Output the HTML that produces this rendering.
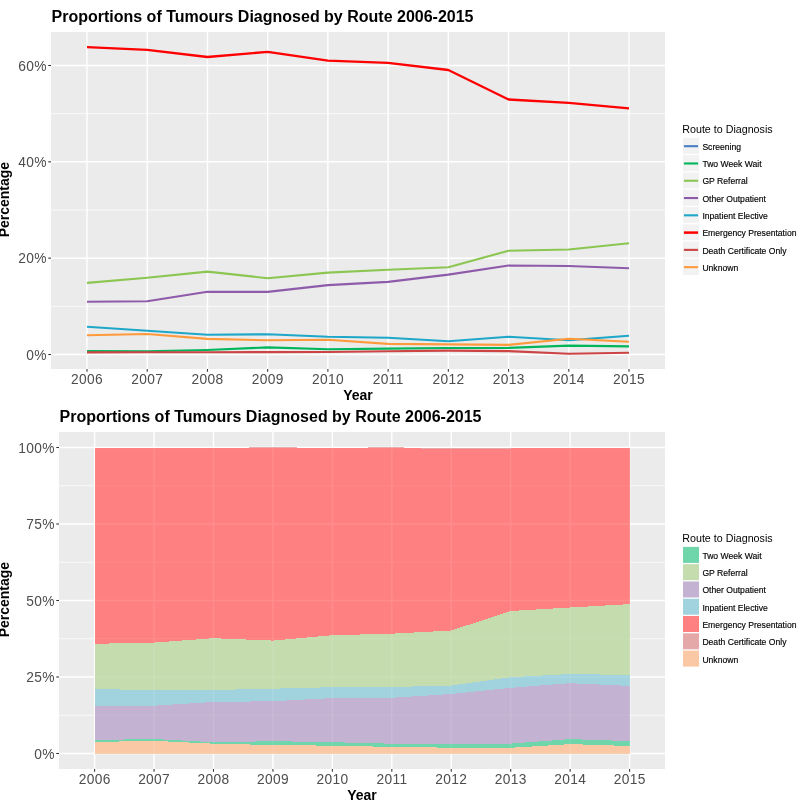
<!DOCTYPE html>
<html><head><meta charset="utf-8"><style>
html,body{margin:0;padding:0;background:#fff;width:811px;height:804px;overflow:hidden}
svg{display:block;will-change:transform}
</style></head><body>
<svg width="811" height="804" viewBox="0 0 811 804" font-family='"Liberation Sans", sans-serif'>
<rect width="811" height="804" fill="#FFFFFF"/>
<rect x="51" y="32" width="614" height="337" fill="#EBEBEB"/>
<line x1="51" x2="665" y1="306.33" y2="306.33" stroke="#FFFFFF" stroke-width="0.71"/>
<line x1="51" x2="665" y1="210.00" y2="210.00" stroke="#FFFFFF" stroke-width="0.71"/>
<line x1="51" x2="665" y1="113.66" y2="113.66" stroke="#FFFFFF" stroke-width="0.71"/>
<line x1="51" x2="665" y1="354.50" y2="354.50" stroke="#FFFFFF" stroke-width="1.42"/>
<line x1="51" x2="665" y1="258.17" y2="258.17" stroke="#FFFFFF" stroke-width="1.42"/>
<line x1="51" x2="665" y1="161.83" y2="161.83" stroke="#FFFFFF" stroke-width="1.42"/>
<line x1="51" x2="665" y1="65.50" y2="65.50" stroke="#FFFFFF" stroke-width="1.42"/>
<line x1="87.00" x2="87.00" y1="32" y2="369" stroke="#FFFFFF" stroke-width="1.42"/>
<line x1="147.22" x2="147.22" y1="32" y2="369" stroke="#FFFFFF" stroke-width="1.42"/>
<line x1="207.44" x2="207.44" y1="32" y2="369" stroke="#FFFFFF" stroke-width="1.42"/>
<line x1="267.67" x2="267.67" y1="32" y2="369" stroke="#FFFFFF" stroke-width="1.42"/>
<line x1="327.89" x2="327.89" y1="32" y2="369" stroke="#FFFFFF" stroke-width="1.42"/>
<line x1="388.11" x2="388.11" y1="32" y2="369" stroke="#FFFFFF" stroke-width="1.42"/>
<line x1="448.33" x2="448.33" y1="32" y2="369" stroke="#FFFFFF" stroke-width="1.42"/>
<line x1="508.55" x2="508.55" y1="32" y2="369" stroke="#FFFFFF" stroke-width="1.42"/>
<line x1="568.78" x2="568.78" y1="32" y2="369" stroke="#FFFFFF" stroke-width="1.42"/>
<line x1="629.00" x2="629.00" y1="32" y2="369" stroke="#FFFFFF" stroke-width="1.42"/>
<polyline points="87.00,351.10 147.22,351.30 207.44,350.00 267.67,347.40 327.89,349.30 388.11,348.60 448.33,348.00 508.55,347.90 568.78,345.60 629.00,346.40" fill="none" stroke="#00B55A" stroke-width="2.1" stroke-linejoin="round"/>
<polyline points="87.00,282.90 147.22,277.80 207.44,271.60 267.67,278.20 327.89,272.60 388.11,269.80 448.33,267.30 508.55,250.70 568.78,249.50 629.00,243.30" fill="none" stroke="#8CC652" stroke-width="2.1" stroke-linejoin="round"/>
<polyline points="87.00,301.70 147.22,301.20 207.44,291.80 267.67,291.90 327.89,285.10 388.11,281.90 448.33,274.60 508.55,265.50 568.78,266.00 629.00,268.20" fill="none" stroke="#8E5BAA" stroke-width="2.1" stroke-linejoin="round"/>
<polyline points="87.00,326.80 147.22,330.80 207.44,334.70 267.67,334.30 327.89,336.80 388.11,337.80 448.33,341.20 508.55,336.80 568.78,340.20 629.00,335.80" fill="none" stroke="#1EA7C8" stroke-width="2.1" stroke-linejoin="round"/>
<polyline points="87.00,47.20 147.22,49.90 207.44,57.00 267.67,51.80 327.89,60.70 388.11,62.90 448.33,70.00 508.55,99.50 568.78,102.90 629.00,108.40" fill="none" stroke="#FF0000" stroke-width="2.3" stroke-linejoin="round"/>
<polyline points="87.00,352.40 147.22,352.20 207.44,352.20 267.67,352.10 327.89,352.00 388.11,351.30 448.33,350.60 508.55,351.10 568.78,353.80 629.00,352.80" fill="none" stroke="#CC4444" stroke-width="2.1" stroke-linejoin="round"/>
<polyline points="87.00,335.20 147.22,334.00 207.44,338.90 267.67,340.30 327.89,339.70 388.11,343.90 448.33,344.40 508.55,344.90 568.78,338.70 629.00,341.70" fill="none" stroke="#FF9A3C" stroke-width="2.1" stroke-linejoin="round"/>
<line x1="48.25" x2="51" y1="354.50" y2="354.50" stroke="#333333" stroke-width="1.07"/>
<text x="46.95" y="359.50" text-anchor="end" font-size="13.75" letter-spacing="0.35" fill="#4D4D4D">0%</text>
<line x1="48.25" x2="51" y1="258.17" y2="258.17" stroke="#333333" stroke-width="1.07"/>
<text x="46.95" y="263.17" text-anchor="end" font-size="13.75" letter-spacing="0.35" fill="#4D4D4D">20%</text>
<line x1="48.25" x2="51" y1="161.83" y2="161.83" stroke="#333333" stroke-width="1.07"/>
<text x="46.95" y="166.83" text-anchor="end" font-size="13.75" letter-spacing="0.35" fill="#4D4D4D">40%</text>
<line x1="48.25" x2="51" y1="65.50" y2="65.50" stroke="#333333" stroke-width="1.07"/>
<text x="46.95" y="70.50" text-anchor="end" font-size="13.75" letter-spacing="0.35" fill="#4D4D4D">60%</text>
<line x1="87.00" x2="87.00" y1="369" y2="371.75" stroke="#333333" stroke-width="1.07"/>
<text x="87.10" y="384.00" text-anchor="middle" font-size="13.75" letter-spacing="0.35" fill="#4D4D4D">2006</text>
<line x1="147.22" x2="147.22" y1="369" y2="371.75" stroke="#333333" stroke-width="1.07"/>
<text x="147.32" y="384.00" text-anchor="middle" font-size="13.75" letter-spacing="0.35" fill="#4D4D4D">2007</text>
<line x1="207.44" x2="207.44" y1="369" y2="371.75" stroke="#333333" stroke-width="1.07"/>
<text x="207.54" y="384.00" text-anchor="middle" font-size="13.75" letter-spacing="0.35" fill="#4D4D4D">2008</text>
<line x1="267.67" x2="267.67" y1="369" y2="371.75" stroke="#333333" stroke-width="1.07"/>
<text x="267.77" y="384.00" text-anchor="middle" font-size="13.75" letter-spacing="0.35" fill="#4D4D4D">2009</text>
<line x1="327.89" x2="327.89" y1="369" y2="371.75" stroke="#333333" stroke-width="1.07"/>
<text x="327.99" y="384.00" text-anchor="middle" font-size="13.75" letter-spacing="0.35" fill="#4D4D4D">2010</text>
<line x1="388.11" x2="388.11" y1="369" y2="371.75" stroke="#333333" stroke-width="1.07"/>
<text x="388.21" y="384.00" text-anchor="middle" font-size="13.75" letter-spacing="0.35" fill="#4D4D4D">2011</text>
<line x1="448.33" x2="448.33" y1="369" y2="371.75" stroke="#333333" stroke-width="1.07"/>
<text x="448.43" y="384.00" text-anchor="middle" font-size="13.75" letter-spacing="0.35" fill="#4D4D4D">2012</text>
<line x1="508.55" x2="508.55" y1="369" y2="371.75" stroke="#333333" stroke-width="1.07"/>
<text x="508.65" y="384.00" text-anchor="middle" font-size="13.75" letter-spacing="0.35" fill="#4D4D4D">2013</text>
<line x1="568.78" x2="568.78" y1="369" y2="371.75" stroke="#333333" stroke-width="1.07"/>
<text x="568.88" y="384.00" text-anchor="middle" font-size="13.75" letter-spacing="0.35" fill="#4D4D4D">2014</text>
<line x1="629.00" x2="629.00" y1="369" y2="371.75" stroke="#333333" stroke-width="1.07"/>
<text x="629.10" y="384.00" text-anchor="middle" font-size="13.75" letter-spacing="0.35" fill="#4D4D4D">2015</text>
<text x="51.5" y="22" font-size="16" font-weight="bold" fill="#000">Proportions of Tumours Diagnosed by Route 2006-2015</text>
<text x="358" y="399.8" text-anchor="middle" font-size="14" font-weight="bold" fill="#000">Year</text>
<text transform="translate(8.8,199.6) rotate(-90)" text-anchor="middle" font-size="14" font-weight="bold" fill="#000">Percentage</text>
<text x="682.3" y="133" font-size="10.7" fill="#000">Route to Diagnosis</text>
<rect x="683" y="137.90" width="16" height="16" fill="#F2F2F2"/>
<line x1="683.9" x2="698.1" y1="146.20" y2="146.20" stroke="#4A7FC1" stroke-width="2.1"/>
<text x="702.38" y="149.90" font-size="8.6" fill="#000" stroke="#000" stroke-width="0.15">Screening</text>
<rect x="683" y="155.18" width="16" height="16" fill="#F2F2F2"/>
<line x1="683.9" x2="698.1" y1="163.48" y2="163.48" stroke="#00B55A" stroke-width="2.1"/>
<text x="702.38" y="167.18" font-size="8.6" fill="#000" stroke="#000" stroke-width="0.15">Two Week Wait</text>
<rect x="683" y="172.46" width="16" height="16" fill="#F2F2F2"/>
<line x1="683.9" x2="698.1" y1="180.76" y2="180.76" stroke="#8CC652" stroke-width="2.1"/>
<text x="702.38" y="184.46" font-size="8.6" fill="#000" stroke="#000" stroke-width="0.15">GP Referral</text>
<rect x="683" y="189.74" width="16" height="16" fill="#F2F2F2"/>
<line x1="683.9" x2="698.1" y1="198.04" y2="198.04" stroke="#8E5BAA" stroke-width="2.1"/>
<text x="702.38" y="201.74" font-size="8.6" fill="#000" stroke="#000" stroke-width="0.15">Other Outpatient</text>
<rect x="683" y="207.02" width="16" height="16" fill="#F2F2F2"/>
<line x1="683.9" x2="698.1" y1="215.32" y2="215.32" stroke="#1EA7C8" stroke-width="2.1"/>
<text x="702.38" y="219.02" font-size="8.6" fill="#000" stroke="#000" stroke-width="0.15">Inpatient Elective</text>
<rect x="683" y="224.30" width="16" height="16" fill="#F2F2F2"/>
<line x1="683.9" x2="698.1" y1="232.60" y2="232.60" stroke="#FF0000" stroke-width="2.5"/>
<text x="702.38" y="236.30" font-size="8.6" fill="#000" stroke="#000" stroke-width="0.15">Emergency Presentation</text>
<rect x="683" y="241.58" width="16" height="16" fill="#F2F2F2"/>
<line x1="683.9" x2="698.1" y1="249.88" y2="249.88" stroke="#CC4444" stroke-width="2.1"/>
<text x="702.38" y="253.58" font-size="8.6" fill="#000" stroke="#000" stroke-width="0.15">Death Certificate Only</text>
<rect x="683" y="258.86" width="16" height="16" fill="#F2F2F2"/>
<line x1="683.9" x2="698.1" y1="267.16" y2="267.16" stroke="#FF9A3C" stroke-width="2.1"/>
<text x="702.38" y="270.86" font-size="8.6" fill="#000" stroke="#000" stroke-width="0.15">Unknown</text>
<rect x="59" y="432" width="606" height="337" fill="#EBEBEB"/>
<line x1="59" x2="665" y1="715.25" y2="715.25" stroke="#FFFFFF" stroke-width="0.71"/>
<line x1="59" x2="665" y1="638.75" y2="638.75" stroke="#FFFFFF" stroke-width="0.71"/>
<line x1="59" x2="665" y1="562.25" y2="562.25" stroke="#FFFFFF" stroke-width="0.71"/>
<line x1="59" x2="665" y1="485.75" y2="485.75" stroke="#FFFFFF" stroke-width="0.71"/>
<line x1="59" x2="665" y1="753.50" y2="753.50" stroke="#FFFFFF" stroke-width="1.42"/>
<line x1="59" x2="665" y1="677.00" y2="677.00" stroke="#FFFFFF" stroke-width="1.42"/>
<line x1="59" x2="665" y1="600.50" y2="600.50" stroke="#FFFFFF" stroke-width="1.42"/>
<line x1="59" x2="665" y1="524.00" y2="524.00" stroke="#FFFFFF" stroke-width="1.42"/>
<line x1="59" x2="665" y1="447.50" y2="447.50" stroke="#FFFFFF" stroke-width="1.42"/>
<line x1="94.60" x2="94.60" y1="432" y2="769" stroke="#FFFFFF" stroke-width="1.42"/>
<line x1="154.04" x2="154.04" y1="432" y2="769" stroke="#FFFFFF" stroke-width="1.42"/>
<line x1="213.49" x2="213.49" y1="432" y2="769" stroke="#FFFFFF" stroke-width="1.42"/>
<line x1="272.93" x2="272.93" y1="432" y2="769" stroke="#FFFFFF" stroke-width="1.42"/>
<line x1="332.38" x2="332.38" y1="432" y2="769" stroke="#FFFFFF" stroke-width="1.42"/>
<line x1="391.82" x2="391.82" y1="432" y2="769" stroke="#FFFFFF" stroke-width="1.42"/>
<line x1="451.26" x2="451.26" y1="432" y2="769" stroke="#FFFFFF" stroke-width="1.42"/>
<line x1="510.71" x2="510.71" y1="432" y2="769" stroke="#FFFFFF" stroke-width="1.42"/>
<line x1="570.15" x2="570.15" y1="432" y2="769" stroke="#FFFFFF" stroke-width="1.42"/>
<line x1="629.60" x2="629.60" y1="432" y2="769" stroke="#FFFFFF" stroke-width="1.42"/>
<polygon points="94.60,448.20 154.04,448.20 213.49,448.20 272.93,448.20 332.38,448.20 391.82,448.20 451.26,448.20 510.71,448.20 570.15,448.20 629.60,448.20 629.60,604.10 570.15,607.50 510.71,611.00 451.26,630.50 391.82,633.70 332.38,635.20 272.93,640.60 213.49,638.20 154.04,642.60 94.60,643.80" fill="#FF8080" shape-rendering="crispEdges"/>
<polygon points="94.60,643.80 154.04,642.60 213.49,638.20 272.93,640.60 332.38,635.20 391.82,633.70 451.26,630.50 510.71,611.00 570.15,607.50 629.60,604.10 629.60,675.00 570.15,674.00 510.71,677.20 451.26,685.50 391.82,687.00 332.38,687.20 272.93,688.70 213.49,690.00 154.04,690.20 94.60,689.00" fill="#C5DCAF" shape-rendering="crispEdges"/>
<polygon points="94.60,689.00 154.04,690.20 213.49,690.00 272.93,688.70 332.38,687.20 391.82,687.00 451.26,685.50 510.71,677.20 570.15,674.00 629.60,675.00 629.60,685.90 570.15,683.20 510.71,687.80 451.26,694.00 391.82,697.80 332.38,698.10 272.93,701.20 213.49,702.00 154.04,705.70 94.60,706.00" fill="#A1D3DF" shape-rendering="crispEdges"/>
<polygon points="94.60,706.00 154.04,705.70 213.49,702.00 272.93,701.20 332.38,698.10 391.82,697.80 451.26,694.00 510.71,687.80 570.15,683.20 629.60,685.90 629.60,741.10 570.15,739.10 510.71,743.60 451.26,744.10 391.82,743.70 332.38,742.20 272.93,741.20 213.49,742.20 154.04,739.00 94.60,740.00" fill="#C3B2D2" shape-rendering="crispEdges"/>
<polygon points="94.60,740.00 154.04,739.00 213.49,742.20 272.93,741.20 332.38,742.20 391.82,743.70 451.26,744.10 510.71,743.60 570.15,739.10 629.60,741.10 629.60,746.00 570.15,744.10 510.71,747.80 451.26,747.70 391.82,746.90 332.38,745.70 272.93,745.00 213.49,743.70 154.04,740.80 94.60,742.00" fill="#6ED6AA" shape-rendering="crispEdges"/>
<polygon points="94.60,742.00 154.04,740.80 213.49,743.70 272.93,745.00 332.38,745.70 391.82,746.90 451.26,747.70 510.71,747.80 570.15,744.10 629.60,746.00 629.60,753.50 570.15,753.50 510.71,753.50 451.26,753.50 391.82,753.50 332.38,753.50 272.93,753.50 213.49,753.50 154.04,753.50 94.60,753.50" fill="#FAC8A5" shape-rendering="crispEdges"/>
<rect x="249" y="447" width="48" height="1.1999999999999886" fill="#E4A6A6" shape-rendering="crispEdges"/>
<rect x="368" y="447" width="36" height="1.1999999999999886" fill="#E4A6A6" shape-rendering="crispEdges"/>
<rect x="421" y="447.8" width="90" height="0.8000000000000114" fill="#E4A6A6" shape-rendering="crispEdges"/>
<rect x="511" y="447.8" width="40" height="0.5999999999999659" fill="#E4A6A6" shape-rendering="crispEdges"/>
<g opacity="0.1">
<line x1="94.60" x2="629.60" y1="753.50" y2="753.50" stroke="#FFFFFF" stroke-width="1.42"/>
<line x1="94.60" x2="629.60" y1="677.00" y2="677.00" stroke="#FFFFFF" stroke-width="1.42"/>
<line x1="94.60" x2="629.60" y1="600.50" y2="600.50" stroke="#FFFFFF" stroke-width="1.42"/>
<line x1="94.60" x2="629.60" y1="524.00" y2="524.00" stroke="#FFFFFF" stroke-width="1.42"/>
<line x1="94.60" x2="629.60" y1="447.50" y2="447.50" stroke="#FFFFFF" stroke-width="1.42"/>
<line x1="94.60" x2="629.60" y1="715.25" y2="715.25" stroke="#FFFFFF" stroke-width="0.71"/>
<line x1="94.60" x2="629.60" y1="638.75" y2="638.75" stroke="#FFFFFF" stroke-width="0.71"/>
<line x1="94.60" x2="629.60" y1="562.25" y2="562.25" stroke="#FFFFFF" stroke-width="0.71"/>
<line x1="94.60" x2="629.60" y1="485.75" y2="485.75" stroke="#FFFFFF" stroke-width="0.71"/>
<line x1="94.60" x2="94.60" y1="447.8" y2="753.5" stroke="#FFFFFF" stroke-width="1.42"/>
<line x1="154.04" x2="154.04" y1="447.8" y2="753.5" stroke="#FFFFFF" stroke-width="1.42"/>
<line x1="213.49" x2="213.49" y1="447.8" y2="753.5" stroke="#FFFFFF" stroke-width="1.42"/>
<line x1="272.93" x2="272.93" y1="447.8" y2="753.5" stroke="#FFFFFF" stroke-width="1.42"/>
<line x1="332.38" x2="332.38" y1="447.8" y2="753.5" stroke="#FFFFFF" stroke-width="1.42"/>
<line x1="391.82" x2="391.82" y1="447.8" y2="753.5" stroke="#FFFFFF" stroke-width="1.42"/>
<line x1="451.26" x2="451.26" y1="447.8" y2="753.5" stroke="#FFFFFF" stroke-width="1.42"/>
<line x1="510.71" x2="510.71" y1="447.8" y2="753.5" stroke="#FFFFFF" stroke-width="1.42"/>
<line x1="570.15" x2="570.15" y1="447.8" y2="753.5" stroke="#FFFFFF" stroke-width="1.42"/>
<line x1="629.60" x2="629.60" y1="447.8" y2="753.5" stroke="#FFFFFF" stroke-width="1.42"/>
</g>
<line x1="56.25" x2="59" y1="753.50" y2="753.50" stroke="#333333" stroke-width="1.07"/>
<text x="54.95" y="758.50" text-anchor="end" font-size="13.75" letter-spacing="0.35" fill="#4D4D4D">0%</text>
<line x1="56.25" x2="59" y1="677.00" y2="677.00" stroke="#333333" stroke-width="1.07"/>
<text x="54.95" y="682.00" text-anchor="end" font-size="13.75" letter-spacing="0.35" fill="#4D4D4D">25%</text>
<line x1="56.25" x2="59" y1="600.50" y2="600.50" stroke="#333333" stroke-width="1.07"/>
<text x="54.95" y="605.50" text-anchor="end" font-size="13.75" letter-spacing="0.35" fill="#4D4D4D">50%</text>
<line x1="56.25" x2="59" y1="524.00" y2="524.00" stroke="#333333" stroke-width="1.07"/>
<text x="54.95" y="529.00" text-anchor="end" font-size="13.75" letter-spacing="0.35" fill="#4D4D4D">75%</text>
<line x1="56.25" x2="59" y1="447.50" y2="447.50" stroke="#333333" stroke-width="1.07"/>
<text x="54.95" y="452.50" text-anchor="end" font-size="13.75" letter-spacing="0.35" fill="#4D4D4D">100%</text>
<line x1="94.60" x2="94.60" y1="769" y2="771.75" stroke="#333333" stroke-width="1.07"/>
<text x="94.70" y="784.00" text-anchor="middle" font-size="13.75" letter-spacing="0.35" fill="#4D4D4D">2006</text>
<line x1="154.04" x2="154.04" y1="769" y2="771.75" stroke="#333333" stroke-width="1.07"/>
<text x="154.14" y="784.00" text-anchor="middle" font-size="13.75" letter-spacing="0.35" fill="#4D4D4D">2007</text>
<line x1="213.49" x2="213.49" y1="769" y2="771.75" stroke="#333333" stroke-width="1.07"/>
<text x="213.59" y="784.00" text-anchor="middle" font-size="13.75" letter-spacing="0.35" fill="#4D4D4D">2008</text>
<line x1="272.93" x2="272.93" y1="769" y2="771.75" stroke="#333333" stroke-width="1.07"/>
<text x="273.03" y="784.00" text-anchor="middle" font-size="13.75" letter-spacing="0.35" fill="#4D4D4D">2009</text>
<line x1="332.38" x2="332.38" y1="769" y2="771.75" stroke="#333333" stroke-width="1.07"/>
<text x="332.48" y="784.00" text-anchor="middle" font-size="13.75" letter-spacing="0.35" fill="#4D4D4D">2010</text>
<line x1="391.82" x2="391.82" y1="769" y2="771.75" stroke="#333333" stroke-width="1.07"/>
<text x="391.92" y="784.00" text-anchor="middle" font-size="13.75" letter-spacing="0.35" fill="#4D4D4D">2011</text>
<line x1="451.26" x2="451.26" y1="769" y2="771.75" stroke="#333333" stroke-width="1.07"/>
<text x="451.36" y="784.00" text-anchor="middle" font-size="13.75" letter-spacing="0.35" fill="#4D4D4D">2012</text>
<line x1="510.71" x2="510.71" y1="769" y2="771.75" stroke="#333333" stroke-width="1.07"/>
<text x="510.81" y="784.00" text-anchor="middle" font-size="13.75" letter-spacing="0.35" fill="#4D4D4D">2013</text>
<line x1="570.15" x2="570.15" y1="769" y2="771.75" stroke="#333333" stroke-width="1.07"/>
<text x="570.25" y="784.00" text-anchor="middle" font-size="13.75" letter-spacing="0.35" fill="#4D4D4D">2014</text>
<line x1="629.60" x2="629.60" y1="769" y2="771.75" stroke="#333333" stroke-width="1.07"/>
<text x="629.70" y="784.00" text-anchor="middle" font-size="13.75" letter-spacing="0.35" fill="#4D4D4D">2015</text>
<text x="59.5" y="422" font-size="16" font-weight="bold" fill="#000">Proportions of Tumours Diagnosed by Route 2006-2015</text>
<text x="362" y="799.8" text-anchor="middle" font-size="14" font-weight="bold" fill="#000">Year</text>
<text transform="translate(8.8,599.6) rotate(-90)" text-anchor="middle" font-size="14" font-weight="bold" fill="#000">Percentage</text>
<text x="682.3" y="542" font-size="10.7" fill="#000">Route to Diagnosis</text>
<rect x="683" y="546.90" width="16" height="16" fill="#6ED6AA"/>
<text x="702.38" y="558.90" font-size="8.6" fill="#000" stroke="#000" stroke-width="0.15">Two Week Wait</text>
<rect x="683" y="564.18" width="16" height="16" fill="#C5DCAF"/>
<text x="702.38" y="576.18" font-size="8.6" fill="#000" stroke="#000" stroke-width="0.15">GP Referral</text>
<rect x="683" y="581.46" width="16" height="16" fill="#C3B2D2"/>
<text x="702.38" y="593.46" font-size="8.6" fill="#000" stroke="#000" stroke-width="0.15">Other Outpatient</text>
<rect x="683" y="598.74" width="16" height="16" fill="#A1D3DF"/>
<text x="702.38" y="610.74" font-size="8.6" fill="#000" stroke="#000" stroke-width="0.15">Inpatient Elective</text>
<rect x="683" y="616.02" width="16" height="16" fill="#FF8080"/>
<text x="702.38" y="628.02" font-size="8.6" fill="#000" stroke="#000" stroke-width="0.15">Emergency Presentation</text>
<rect x="683" y="633.30" width="16" height="16" fill="#E4A8A8"/>
<text x="702.38" y="645.30" font-size="8.6" fill="#000" stroke="#000" stroke-width="0.15">Death Certificate Only</text>
<rect x="683" y="650.58" width="16" height="16" fill="#FAC8A5"/>
<text x="702.38" y="662.58" font-size="8.6" fill="#000" stroke="#000" stroke-width="0.15">Unknown</text>
</svg>
</body></html>
